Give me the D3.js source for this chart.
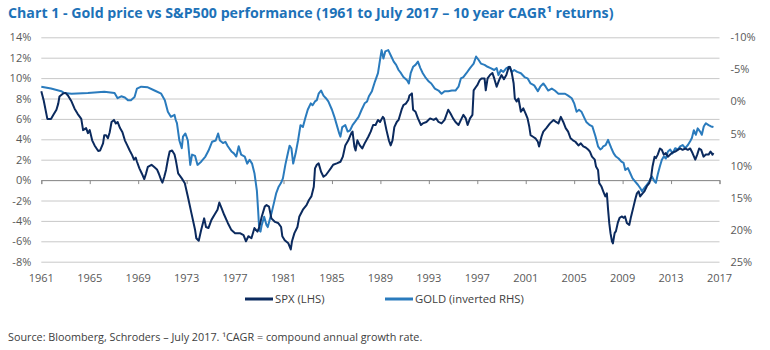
<!DOCTYPE html>
<html>
<head>
<meta charset="utf-8">
<script src="https://cdn.jsdelivr.net/npm/d3@7"></script>
<style>
  body { margin: 0; background: #fff; }
  svg { display: block; font-family: "Open Sans", sans-serif; }
</style>
</head>
<body>
<div id="chart"></div>
<script>
// 10 year CAGR, [year, %]. SPX on the left axis
const spx = [
  [1961.0, 8.7], [1961.2, 7.8], [1961.5, 6.0], [1961.8, 6.0], [1962.0, 6.4], [1962.25, 6.9],
  [1962.4, 7.5], [1962.5, 8.2], [1962.8, 8.5], [1963.0, 8.55], [1963.2, 8.3], [1963.5, 7.7],
  [1963.75, 7.0], [1964.0, 6.5], [1964.3, 6.0], [1964.45, 4.9], [1964.7, 5.1], [1964.85, 4.6],
  [1965.0, 4.9], [1965.2, 3.9], [1965.4, 3.4], [1965.7, 2.85], [1965.85, 2.9], [1966.1, 3.6],
  [1966.2, 4.4], [1966.35, 4.4], [1966.5, 4.1], [1966.65, 4.7], [1966.8, 5.7], [1967.0, 5.9],
  [1967.15, 5.55], [1967.3, 5.7], [1967.5, 5.1], [1967.7, 4.7], [1967.9, 3.9], [1968.1, 3.4],
  [1968.3, 2.9], [1968.5, 2.45], [1968.65, 2.0], [1968.8, 2.2], [1968.9, 1.8], [1969.1, 1.15],
  [1969.3, 0.65], [1969.5, 0.1], [1969.65, 0.65], [1969.8, 1.3], [1970.1, 1.5], [1970.35, 1.25],
  [1970.55, 1.05], [1970.7, 0.65], [1970.9, 0.0], [1971.0, -0.25], [1971.15, 0.3], [1971.3, 1.0],
  [1971.45, 2.0], [1971.6, 2.8], [1971.8, 2.9], [1972.0, 2.5], [1972.1, 2.0], [1972.3, 0.66],
  [1972.6, 0.17], [1972.85, -0.3], [1973.1, -1.6], [1973.4, -3.26], [1973.7, -4.9], [1973.8, -5.7],
  [1974.0, -5.95], [1974.2, -4.9], [1974.45, -3.75], [1974.6, -4.6], [1974.8, -4.7], [1975.05, -3.9],
  [1975.3, -3.4], [1975.55, -2.9], [1975.7, -2.2], [1975.9, -2.8], [1976.1, -3.4], [1976.4, -4.2],
  [1976.7, -4.9], [1977.0, -5.2], [1977.4, -5.2], [1977.7, -5.4], [1977.9, -6.0], [1978.1, -5.5],
  [1978.35, -5.7], [1978.6, -4.7], [1978.85, -5.05], [1979.0, -4.6], [1979.2, -3.6], [1979.45, -2.6],
  [1979.6, -2.45], [1979.8, -2.6], [1980.0, -3.75], [1980.3, -4.1], [1980.55, -4.2], [1980.8, -4.6],
  [1980.9, -5.5], [1981.1, -5.9], [1981.4, -6.2], [1981.6, -6.8], [1981.7, -6.0], [1981.9, -5.2],
  [1982.15, -4.6], [1982.3, -3.6], [1982.6, -2.9], [1982.9, -2.45], [1983.1, -1.95], [1983.3, -1.6],
  [1983.5, -0.65], [1983.6, 1.15], [1983.75, 1.5], [1983.9, 1.64], [1984.1, 0.82], [1984.3, 0.33],
  [1984.5, 0.5], [1984.7, 0.82], [1984.9, 1.15], [1985.1, 1.5], [1985.4, 1.64], [1985.7, 1.8],
  [1985.9, 2.3], [1986.1, 3.4], [1986.35, 3.9], [1986.6, 4.6], [1986.7, 4.75], [1986.85, 3.3],
  [1986.95, 2.9], [1987.1, 3.9], [1987.3, 3.4], [1987.5, 3.1], [1987.7, 3.6], [1988.0, 4.25],
  [1988.2, 4.75], [1988.4, 5.4], [1988.6, 5.4], [1988.8, 5.9], [1988.97, 5.7], [1989.2, 6.2],
  [1989.3, 6.05], [1989.5, 4.9], [1989.7, 3.9], [1989.85, 3.4], [1990.0, 3.9], [1990.15, 5.2],
  [1990.35, 5.7], [1990.5, 5.9], [1990.75, 6.9], [1990.9, 7.36], [1991.1, 7.5], [1991.3, 7.85],
  [1991.4, 8.3], [1991.6, 8.5], [1991.7, 6.9], [1991.9, 6.7], [1992.1, 6.05], [1992.35, 5.4],
  [1992.5, 5.56], [1992.8, 5.7], [1993.1, 6.05], [1993.4, 5.9], [1993.6, 6.05], [1993.8, 5.7],
  [1994.05, 5.56], [1994.3, 5.9], [1994.6, 6.9], [1994.8, 6.5], [1995.0, 6.05], [1995.2, 5.7],
  [1995.45, 5.4], [1995.65, 5.9], [1995.85, 6.4], [1996.05, 6.05], [1996.2, 5.4], [1996.4, 6.05],
  [1996.6, 6.4], [1996.7, 8.8], [1996.9, 9.15], [1997.0, 9.3], [1997.2, 9.8], [1997.35, 9.97],
  [1997.6, 9.97], [1997.7, 8.8], [1997.85, 9.97], [1998.05, 10.3], [1998.25, 10.5], [1998.4, 9.97],
  [1998.6, 9.15], [1998.8, 9.8], [1999.0, 10.3], [1999.2, 9.9], [1999.4, 10.3], [1999.6, 11.1],
  [1999.7, 11.1], [1999.85, 10.5], [2000.0, 9.5], [2000.1, 8.0], [2000.25, 7.7], [2000.4, 8.0],
  [2000.6, 6.7], [2000.8, 7.03], [2001.0, 6.5], [2001.15, 6.05], [2001.3, 5.2], [2001.4, 4.4],
  [2001.6, 4.25], [2001.8, 4.1], [2002.0, 3.76], [2002.1, 3.3], [2002.3, 4.25], [2002.45, 4.75],
  [2002.7, 5.1], [2003.0, 5.56], [2003.3, 5.9], [2003.5, 5.7], [2003.7, 5.56], [2003.9, 6.2],
  [2004.1, 5.7], [2004.3, 5.1], [2004.5, 4.75], [2004.7, 4.1], [2004.9, 3.9], [2005.1, 3.76],
  [2005.35, 3.4], [2005.55, 3.6], [2005.75, 3.3], [2005.95, 3.2], [2006.15, 3.0], [2006.3, 2.8],
  [2006.47, 2.3], [2006.7, 2.0], [2006.8, 1.34], [2006.97, 1.0], [2007.07, -0.3], [2007.24, -0.6],
  [2007.4, -1.1], [2007.57, -1.6], [2007.7, -1.3], [2007.8, -2.9], [2007.9, -4.25], [2008.0, -5.2],
  [2008.12, -6.0], [2008.2, -6.2], [2008.34, -5.2], [2008.45, -5.0], [2008.6, -4.2], [2008.75, -3.7],
  [2008.95, -3.56], [2009.08, -3.7], [2009.2, -3.56], [2009.35, -4.2], [2009.55, -4.4], [2009.7, -3.56],
  [2009.9, -2.6], [2010.04, -1.9], [2010.18, -1.3], [2010.32, -1.1], [2010.45, -1.6], [2010.65, -1.3],
  [2010.8, -1.1], [2011.0, -0.6], [2011.2, -0.3], [2011.36, 0.36], [2011.47, 1.34], [2011.64, 2.3],
  [2011.75, 2.15], [2011.9, 2.5], [2012.08, 3.1], [2012.24, 2.97], [2012.4, 2.5], [2012.57, 2.65],
  [2012.74, 2.3], [2012.93, 2.5], [2013.12, 2.7], [2013.34, 2.8], [2013.56, 2.97], [2013.75, 3.1],
  [2013.95, 2.97], [2014.17, 3.1], [2014.39, 2.97], [2014.58, 3.1], [2014.77, 2.65], [2015.0, 2.0],
  [2015.16, 2.5], [2015.32, 3.1], [2015.49, 2.97], [2015.68, 2.3], [2015.87, 2.5], [2016.1, 2.5],
  [2016.26, 2.8], [2016.42, 2.5], [2016.5, 2.65]
];

// gold, inverted right axis
const gold = [
  [1961.0, -2.3], [1961.8, -2.0], [1962.65, -1.6], [1962.9, -1.3], [1963.5, -1.2], [1964.85, -1.3],
  [1966.2, -1.5], [1967.05, -1.3], [1967.3, -0.5], [1967.6, -0.8], [1967.9, -0.6], [1968.15, -0.2],
  [1968.4, -0.2], [1968.7, -0.7], [1968.9, -2.0], [1969.25, -2.3], [1969.8, -2.2], [1970.35, -1.7],
  [1970.9, -1.2], [1971.2, -0.2], [1971.45, 1.6], [1971.7, 2.4], [1972.0, 2.1], [1972.1, 2.9],
  [1972.2, 3.4], [1972.4, 6.1], [1972.6, 7.3], [1972.7, 5.5], [1972.9, 5.0], [1973.1, 6.1],
  [1973.3, 9.9], [1973.45, 8.3], [1973.7, 8.5], [1973.9, 9.9], [1974.2, 9.4], [1974.55, 8.6],
  [1974.8, 7.7], [1975.1, 6.3], [1975.4, 6.1], [1975.6, 5.0], [1975.75, 6.1], [1976.0, 6.5],
  [1976.2, 6.3], [1976.4, 7.0], [1976.7, 7.8], [1976.9, 8.1], [1977.1, 8.6], [1977.3, 7.0],
  [1977.5, 8.3], [1977.8, 8.6], [1978.0, 9.7], [1978.2, 9.1], [1978.4, 9.7], [1978.6, 11.2],
  [1978.8, 13.9], [1978.9, 16.9], [1979.0, 20.1], [1979.1, 20.3], [1979.2, 19.3], [1979.4, 18.0],
  [1979.6, 19.3], [1979.7, 19.6], [1980.0, 17.5], [1980.2, 15.9], [1980.4, 14.3], [1980.6, 13.3],
  [1980.8, 12.7], [1980.95, 12.0], [1981.15, 9.9], [1981.3, 8.6], [1981.5, 6.9], [1981.65, 7.3],
  [1981.8, 9.7], [1982.0, 8.1], [1982.2, 6.1], [1982.4, 3.7], [1982.6, 4.0], [1982.8, 2.6],
  [1983.0, 1.3], [1983.25, 0.3], [1983.4, 0.6], [1983.6, 0.0], [1983.75, -0.2], [1983.9, -1.2],
  [1984.1, -1.7], [1984.3, -0.9], [1984.5, -0.5], [1984.7, 0.0], [1985.0, 1.3], [1985.2, 2.4],
  [1985.4, 3.7], [1985.6, 5.0], [1985.7, 5.5], [1985.85, 4.0], [1986.1, 3.7], [1986.3, 4.7],
  [1986.5, 4.5], [1986.7, 3.7], [1986.9, 3.2], [1987.2, 2.4], [1987.45, 1.3], [1987.7, 0.3],
  [1987.9, 0.0], [1988.05, -0.8], [1988.3, -1.6], [1988.55, -3.1], [1988.8, -4.4], [1988.97, -6.5],
  [1989.1, -8.0], [1989.25, -6.7], [1989.4, -7.8], [1989.65, -8.0], [1989.9, -7.0], [1990.1, -6.2],
  [1990.3, -5.7], [1990.5, -4.9], [1990.7, -4.4], [1990.9, -3.8], [1991.2, -3.3], [1991.35, -2.8],
  [1991.5, -4.4], [1991.7, -5.4], [1991.9, -5.7], [1992.1, -6.2], [1992.3, -5.2], [1992.5, -4.4],
  [1992.7, -3.8], [1993.0, -3.1], [1993.2, -2.8], [1993.5, -2.0], [1993.8, -1.7], [1994.05, -1.2],
  [1994.3, -1.6], [1994.6, -1.6], [1994.9, -1.7], [1995.2, -1.7], [1995.45, -2.3], [1995.65, -3.6],
  [1995.85, -3.8], [1996.1, -4.4], [1996.4, -5.2], [1996.7, -5.9], [1996.9, -7.0], [1997.1, -6.5],
  [1997.3, -5.9], [1997.6, -5.7], [1997.85, -5.4], [1998.1, -5.2], [1998.4, -4.9], [1998.6, -5.2],
  [1998.75, -4.1], [1998.95, -4.9], [1999.15, -4.6], [1999.4, -5.2], [1999.65, -5.4], [1999.85, -4.6],
  [2000.05, -4.9], [2000.3, -4.6], [2000.6, -4.4], [2000.9, -3.8], [2001.15, -3.6], [2001.4, -2.8],
  [2001.7, -2.5], [2002.0, -1.6], [2002.2, -2.3], [2002.45, -2.8], [2002.65, -2.3], [2002.85, -1.7],
  [2003.15, -2.0], [2003.4, -1.7], [2003.7, -1.2], [2004.0, -1.2], [2004.25, -1.2], [2004.5, -0.9],
  [2004.8, -0.5], [2005.0, 0.3], [2005.2, 1.6], [2005.4, 1.3], [2005.6, 1.6], [2005.8, 2.4],
  [2006.0, 3.2], [2006.3, 3.7], [2006.5, 3.9], [2006.75, 5.4], [2006.97, 7.0], [2007.16, 7.5],
  [2007.3, 7.3], [2007.4, 7.0], [2007.6, 6.8], [2007.8, 6.0], [2007.9, 6.5], [2008.07, 7.3],
  [2008.26, 8.1], [2008.45, 8.6], [2008.67, 8.9], [2008.9, 9.4], [2009.08, 9.6], [2009.22, 10.7],
  [2009.44, 10.4], [2009.63, 11.2], [2009.82, 12.0], [2010.04, 12.5], [2010.26, 13.0], [2010.45, 13.5],
  [2010.6, 14.0], [2010.8, 13.5], [2011.0, 13.0], [2011.2, 12.5], [2011.42, 11.7], [2011.64, 12.5],
  [2011.75, 12.7], [2011.9, 11.4], [2012.08, 10.1], [2012.24, 9.1], [2012.4, 8.6], [2012.57, 8.9],
  [2012.74, 7.8], [2012.93, 7.5], [2013.12, 8.1], [2013.34, 7.3], [2013.56, 7.5], [2013.75, 7.0],
  [2013.95, 6.8], [2014.17, 7.3], [2014.39, 6.8], [2014.58, 6.2], [2014.72, 5.7], [2014.88, 4.5],
  [2015.05, 5.2], [2015.2, 4.2], [2015.4, 4.7], [2015.54, 5.2], [2015.7, 3.9], [2015.87, 3.4],
  [2016.1, 3.7], [2016.3, 3.9], [2016.5, 4.0]
];

const leftTicks = [-8, -6, -4, -2, 0, 2, 4, 6, 8, 10, 12, 14];
const rightTicks = [-10, -5, 0, 5, 10, 15, 20, 25];
const yearTicks = [1961, 1965, 1969, 1973, 1977, 1981, 1985, 1989, 1993, 1997, 2001, 2005, 2009, 2013, 2017];

const seriesNames = ['SPX (LHS)', 'GOLD (inverted RHS)'];
const colors = { spx: '#0b2a5e', gold: '#2a7bbd', grid: '#c8c8c8', axis: '#8a8a8a', label: '#595959' };

const width = 770, height = 350;
const plot = { left: 41.3, right: 719.5, top: 37.3, bottom: 261.7 };

const svg = d3.select('#chart').append('svg')
  .attr('width', width)
  .attr('height', height);

const x = d3.scaleLinear().domain([1961, 2017]).range([plot.left, plot.right]);
const yLeft = d3.scaleLinear().domain([-8, 14]).range([plot.bottom, plot.top]);
// right axis is inverted: -10% at the top
const yRight = d3.scaleLinear().domain([25, -10]).range([plot.bottom, plot.top]);

// title
svg.append('text')
  .attr('x', 8).attr('y', 18)
  .attr('font-size', 14.2)
  .attr('font-weight', 700)
  .attr('fill', '#1d72b8')
  .text('Chart 1 - Gold price vs S&P500 performance (1961 to July 2017 \u2013 10 year CAGR\u00b9 returns)');

// gridlines + left labels
svg.append('g')
  .attr('transform', `translate(${plot.left},0)`)
  .call(d3.axisLeft(yLeft).tickValues(leftTicks).tickSize(-(plot.right - plot.left)).tickPadding(10)
    .tickFormat(d => d + '%'))
  .call(g => g.select('.domain').remove())
  .call(g => g.selectAll('.tick line').attr('stroke', colors.grid))
  .call(g => g.selectAll('.tick text').attr('fill', colors.label).attr('font-size', 11)
    .attr('font-family', '"Open Sans", sans-serif'));

// right labels, left aligned
svg.append('g')
  .attr('transform', `translate(${plot.right},0)`)
  .call(d3.axisRight(yRight).tickValues(rightTicks).tickSize(0).tickPadding(11)
    .tickFormat(d => d + '%'))
  .call(g => g.select('.domain').remove())
  .call(g => g.selectAll('.tick text').attr('fill', colors.label).attr('font-size', 11)
    .attr('font-family', '"Open Sans", sans-serif'));

// category axis sits on the 0% line, labels go to the bottom
svg.append('g')
  .attr('transform', `translate(0,${yLeft(0)})`)
  .call(d3.axisBottom(x).tickValues(yearTicks).tickSize(4).tickFormat(''))
  .call(g => g.select('.domain').attr('stroke', colors.axis))
  .call(g => g.selectAll('.tick line').attr('stroke', colors.axis));

svg.append('g')
  .selectAll('text')
  .data(yearTicks)
  .join('text')
  .attr('x', d => x(d))
  .attr('y', 282)
  .attr('text-anchor', 'middle')
  .attr('font-size', 11)
  .attr('fill', colors.label)
  .text(d => d);

const lineLeft = d3.line().x(d => x(d[0])).y(d => yLeft(d[1]));
const lineRight = d3.line().x(d => x(d[0])).y(d => yRight(d[1]));

svg.append('path')
  .datum(gold)
  .attr('d', lineRight)
  .attr('fill', 'none')
  .attr('stroke', colors.gold)
  .attr('stroke-width', 2)
  .attr('stroke-linejoin', 'round');

svg.append('path')
  .datum(spx)
  .attr('d', lineLeft)
  .attr('fill', 'none')
  .attr('stroke', colors.spx)
  .attr('stroke-width', 2)
  .attr('stroke-linejoin', 'round');

// legend
const legend = svg.append('g')
  .selectAll('g')
  .data([{ name: seriesNames[0], color: colors.spx, x: 245 }, { name: seriesNames[1], color: colors.gold, x: 385 }])
  .join('g')
  .attr('transform', d => `translate(${d.x},299)`);

legend.append('line')
  .attr('x1', 0).attr('x2', 28)
  .attr('stroke', d => d.color)
  .attr('stroke-width', 3);

legend.append('text')
  .attr('x', 30).attr('y', 4)
  .attr('font-size', 11.3)
  .attr('fill', '#404040')
  .text(d => d.name);

svg.append('text')
  .attr('x', 8).attr('y', 341)
  .attr('font-size', 10.8)
  .attr('fill', '#404040')
  .text('Source: Bloomberg, Schroders \u2013 July 2017. \u00b9CAGR = compound annual growth rate.');
</script>
</body>
</html>
